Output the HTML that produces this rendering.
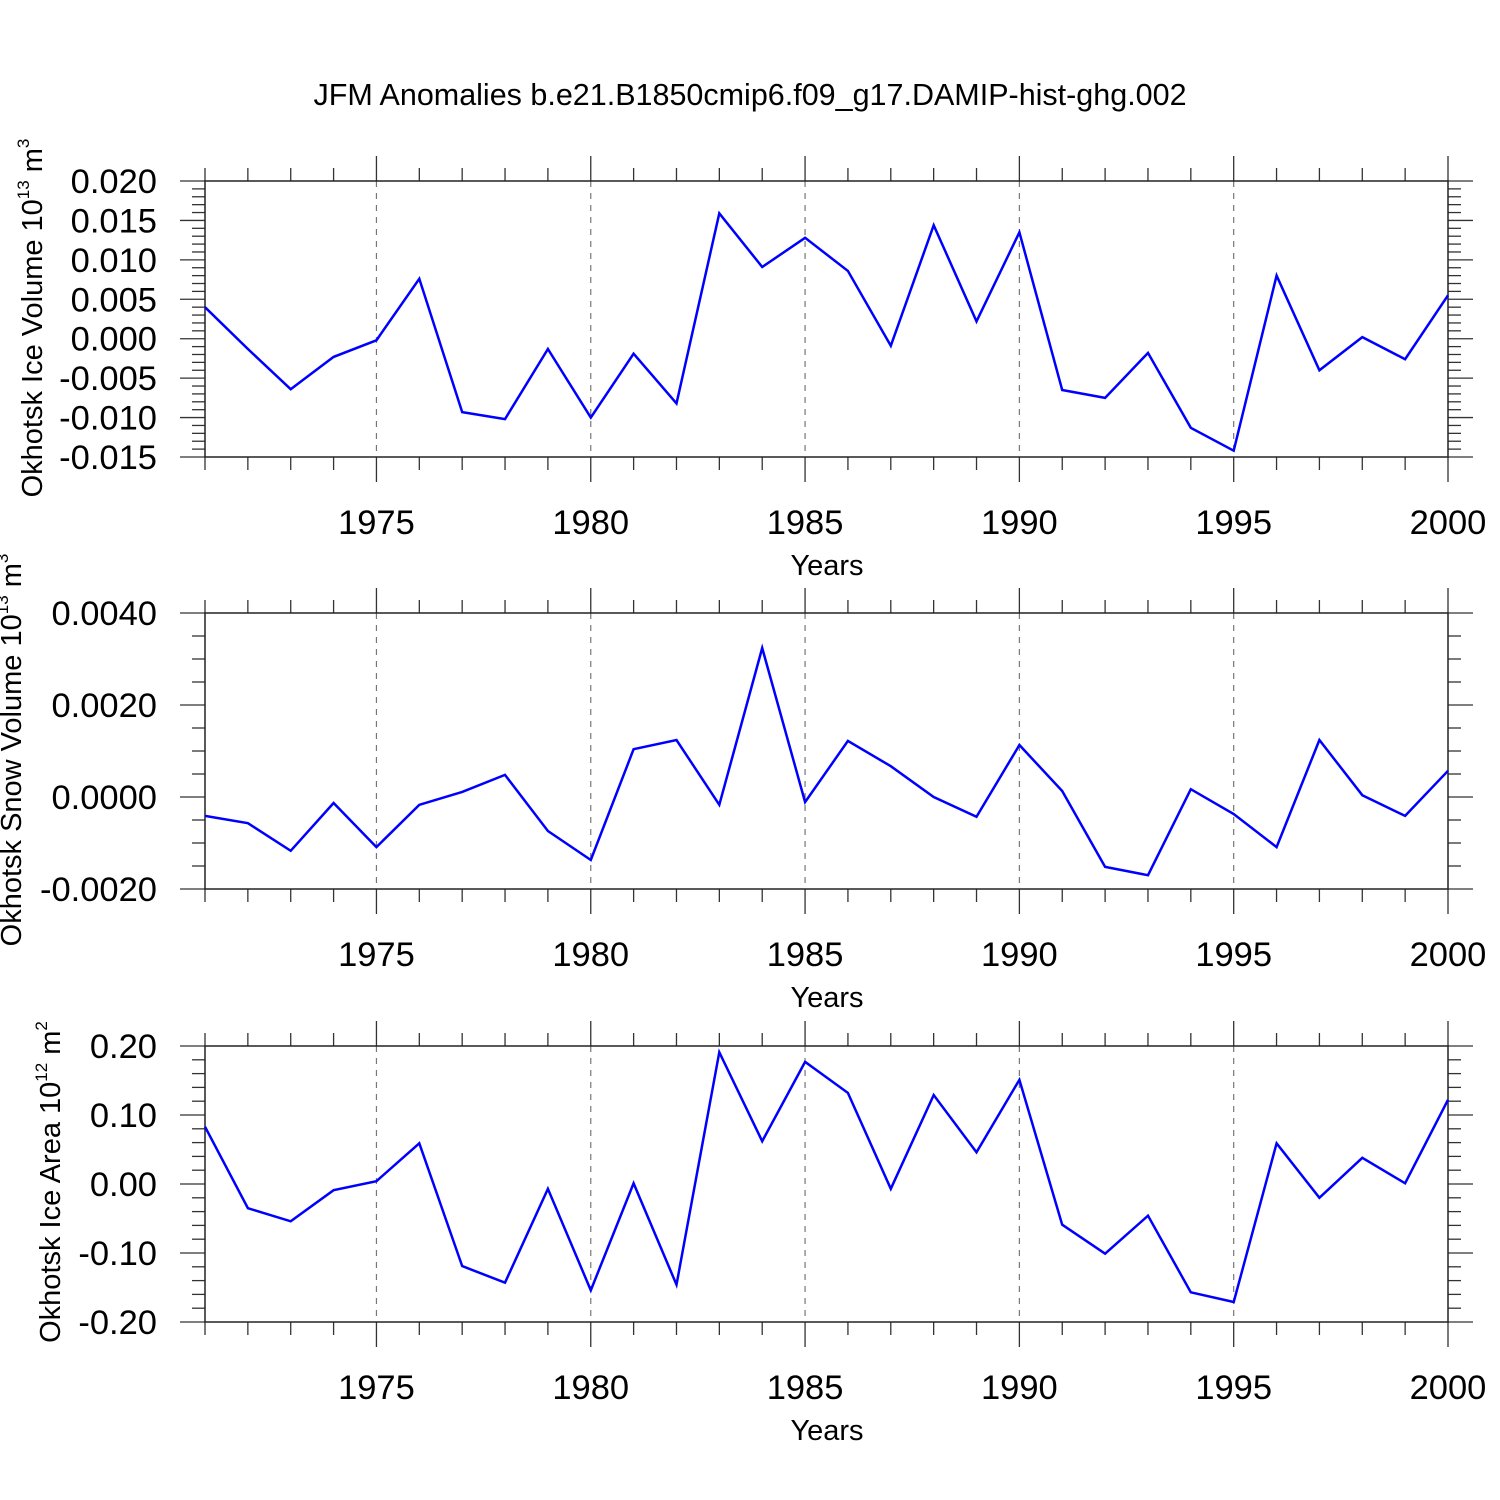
<!DOCTYPE html>
<html><head><meta charset="utf-8">
<style>
html,body{margin:0;padding:0;background:#fff;}
svg{display:block;font-family:"Liberation Sans",sans-serif;}
</style></head>
<body>
<svg id="chart" width="1500" height="1500" viewBox="0 0 1500 1500" xmlns="http://www.w3.org/2000/svg">
<rect width="1500" height="1500" fill="#fff"/>
<text x="750" y="105" font-size="30.5" text-anchor="middle">JFM Anomalies b.e21.B1850cmip6.f09_g17.DAMIP-hist-ghg.002</text>
</svg>
<script>
const years = [1971,1972,1973,1974,1975,1976,1977,1978,1979,1980,1981,1982,1983,1984,1985,1986,1987,1988,1989,1990,1991,1992,1993,1994,1995,1996,1997,1998,1999,2000];
const iceVolume = [0.0040,-0.0013,-0.0064,-0.0023,-0.0002,0.0076,-0.0093,-0.0102,-0.0013,-0.0100,-0.0019,-0.0082,0.0159,0.0091,0.0128,0.0086,-0.0009,0.0144,0.0022,0.0135,-0.0065,-0.0075,-0.0018,-0.0113,-0.0142,0.0080,-0.0040,0.0002,-0.0026,0.0055];
const snowVolume = [-0.00041,-0.00057,-0.00117,-0.00013,-0.00109,-0.00017,0.00011,0.00048,-0.00074,-0.00137,0.00104,0.00124,-0.00017,0.00324,-0.00011,0.00122,0.00067,0.0000,-0.00043,0.00113,0.00013,-0.00152,-0.0017,0.00017,-0.00037,-0.00109,0.00124,0.00004,-0.00041,0.00057];
const iceArea = [0.083,-0.035,-0.054,-0.009,0.004,0.059,-0.119,-0.143,-0.007,-0.154,0.001,-0.146,0.191,0.062,0.177,0.132,-0.007,0.129,0.046,0.151,-0.059,-0.101,-0.046,-0.157,-0.171,0.059,-0.020,0.038,0.001,0.122];
const xTickLabels = ["1975","1980","1985","1990","1995","2000"];
const yTicks1 = ["0.020","0.015","0.010","0.005","0.000","-0.005","-0.010","-0.015"];
const yTicks2 = ["0.0040","0.0020","0.0000","-0.0020"];
const yTicks3 = ["0.20","0.10","0.00","-0.10","-0.20"];

const svg = document.getElementById('chart');
const NS = 'http://www.w3.org/2000/svg';
function mk(tag, attrs, parent){const e=document.createElementNS(NS,tag);for(const k in attrs)e.setAttribute(k,attrs[k]);(parent||svg).appendChild(e);return e;}
const X0=205, X1=1448;
function xs(yr){return X0+(yr-1971)/(2000-1971)*(X1-X0);}

const panels = [
 {top:181,bot:457,vals:iceVolume,ticks:yTicks1,ymax:0.020,ymin:-0.015,minor:0.001,major:0.005,name:'ice-volume',
  title:['Okhotsk Ice Volume 10','13',' m','3'],tx:42,ty:318},
 {top:613,bot:889,vals:snowVolume,ticks:yTicks2,ymax:0.0040,ymin:-0.0020,minor:0.0005,major:0.002,name:'snow-volume',
  title:['Okhotsk Snow Volume 10','13',' m','3'],tx:21,ty:750},
 {top:1046,bot:1322,vals:iceArea,ticks:yTicks3,ymax:0.20,ymin:-0.20,minor:0.02,major:0.1,name:'ice-area',
  title:['Okhotsk Ice Area 10','12',' m','2'],tx:60,ty:1182}
];

panels.forEach(p=>{
  const g=mk('g',{});
  
  
  const ys=v=>p.top+(p.ymax-v)/(p.ymax-p.ymin)*(p.bot-p.top);
  for(let yr=1975; yr<=1995; yr+=5){
    const l=mk('line',{x1:xs(yr),x2:xs(yr),y1:p.top,y2:p.bot,stroke:'#777','stroke-width':1.2,'stroke-dasharray':'6,6'},g);
    
    
  }
  for(let yr=1971; yr<=2000; yr++){
    const len = yr%5===0?25:13;
    mk('line',{x1:xs(yr),x2:xs(yr),y1:p.top,y2:p.top-len,stroke:'#333','stroke-width':1.3},g);
    mk('line',{x1:xs(yr),x2:xs(yr),y1:p.bot,y2:p.bot+len,stroke:'#333','stroke-width':1.3},g);
  }
  const nMin=Math.round((p.ymax-p.ymin)/p.minor), per=Math.round(p.major/p.minor);
  for(let i=0;i<=nMin;i++){
    const y=p.top+i/nMin*(p.bot-p.top);
    const len=i%per===0?25:13;
    mk('line',{x1:X0,x2:X0-len,y1:y,y2:y,stroke:'#333','stroke-width':1.3},g);
    mk('line',{x1:X1,x2:X1+len,y1:y,y2:y,stroke:'#333','stroke-width':1.3},g);
  }
  const b=mk('rect',{x:X0,y:p.top,width:X1-X0,height:p.bot-p.top,fill:'none',stroke:'#222','stroke-width':1.5},g);
  
  
  p.ticks.forEach((t,i)=>{
    const y=ys(p.ymax-i*p.major);
    const tx=mk('text',{x:157,y:y+12,'font-size':34.5,'text-anchor':'end'},g);
    tx.textContent=t;
    
    
  });
  xTickLabels.forEach(t=>{
    const tx=mk('text',{x:xs(+t),y:p.bot+77,'font-size':34.5,'text-anchor':'middle'},g);
    tx.textContent=t;
    
    
  });
  const xt=mk('text',{x:827,y:p.bot+118,'font-size':29,'text-anchor':'middle'},g);
  xt.textContent='Years';
  
  
  const yt=mk('text',{x:0,y:0,'font-size':29,'text-anchor':'middle',transform:`translate(${p.tx},${p.ty}) rotate(-90)`},g);
  
  
  p.title.forEach((s,i)=>{
    const ts=mk('tspan',{},yt);
    if(i%2===1){ts.setAttribute('font-size','17');ts.setAttribute('dy','-13');}
    else if(i>0){ts.setAttribute('dy','13');}
    ts.textContent=s;
  });
  const pts=years.map((yr,i)=>xs(yr).toFixed(1)+','+ys(p.vals[i]).toFixed(1)).join(' ');
  const pl=mk('polyline',{points:pts,fill:'none',stroke:'#0000ff','stroke-width':2.5,'stroke-linejoin':'miter'},g);
  
  
});
</script>
</body></html>
